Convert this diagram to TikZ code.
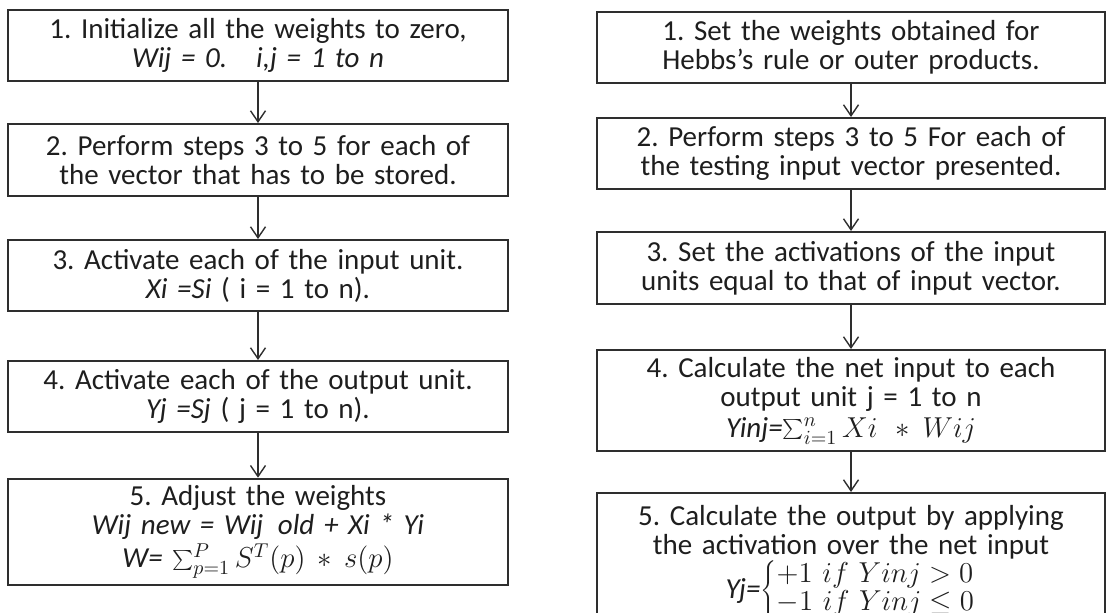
\documentclass[tikz,border=0pt]{standalone}
\usepackage[no-math]{fontspec}
\setmainfont{Carlito}
\usetikzlibrary{arrows.meta}
\definecolor{boxline}{HTML}{2E2E2E}
\definecolor{steptext}{HTML}{1E1E1E}

\tikzset{
  stepbox/.style={draw=boxline, line width=1pt, text=steptext, text width=240pt,
                  inner xsep=5pt, align=center, font=\fontsize{14.5}{14.5}\selectfont},
  teststepbox/.style={stepbox, text width=244pt},
  flowarrow/.style={draw=boxline, line width=0.7pt, -{Straight Barb[length=5.5pt,width=7.5pt]}}
}

\begin{document}
\frenchspacing
\begin{tikzpicture}[x=0.5pt, y=-0.5pt]
    \clip (0,0) rectangle (1106,613);

    % storing the vectors
    \node[stepbox, minimum height=35.5pt] (train1) at (258,45.5)
      {1. Initialize all the weights to zero,\\ \textit{Wij = 0.\quad i,j = 1 to n}};
    \node[stepbox, minimum height=36pt] (train2) at (258,160)
      {2. Perform steps 3 to 5 for each of\\ the vector that has to be stored.};
    \node[stepbox, minimum height=35.5pt] (train3) at (258,275.5)
      {3. Activate each of the input unit.\\ \textit{Xi =Si} ( i = 1 to n).};
    \node[stepbox, minimum height=35.5pt] (train4) at (258,396.5)
      {4. Activate each of the output unit.\\ \textit{Yj =Sj} ( j = 1 to n).};
    \node[stepbox, minimum height=52pt] (train5) at (258,532)
      {5. Adjust the weights\\ \textit{Wij new = Wij\enspace old + Xi * Yi}\\[1pt]
       \textit{W=} $\sum_{p=1}^{P} S^{T}(p) * s(p)$};

    % testing the input vectors
    \node[teststepbox, minimum height=35.5pt] (test1) at (851,47.5)
      {1. Set the weights obtained for\\ Hebbs's rule or outer products.};
    \node[teststepbox, minimum height=35.5pt] (test2) at (851,153.5)
      {2. Perform steps 3 to 5 For each of\\ the testing input vector presented.};
    \node[teststepbox, minimum height=36pt] (test3) at (851,268)
      {3. Set the activations of the input\\ units equal to that of input vector.};
    \node[teststepbox, minimum height=50.5pt] (test4) at (851,400.5)
      {4. Calculate the net input to each\\ output unit j = 1 to n\\[1pt]
       \textit{Yinj=}$\sum_{i=1}^{n} Xi\, * Wij$};
    \node[teststepbox, anchor=north, inner ysep=4pt, minimum height=70pt] (test5) at (851,492)
      {5. Calculate the output by applying\\ the activation over the net input\\
       \textit{Yj=}$\left\{\renewcommand{\arraystretch}{0.93}\begin{array}{@{}l@{}}
         +1\ if\ Yinj > 0\\ -1\ if\ Yinj \le 0\end{array}\right.$};

    \draw[flowarrow] (train1) -- (train2);
    \draw[flowarrow] (train2) -- (train3);
    \draw[flowarrow] (train3) -- (train4);
    \draw[flowarrow] (train4) -- (train5);

    \draw[flowarrow] (test1) -- (test2);
    \draw[flowarrow] (test2) -- (test3);
    \draw[flowarrow] (test3) -- (test4);
    \draw[flowarrow] (test4) -- (test5);
\end{tikzpicture}
\end{document}
